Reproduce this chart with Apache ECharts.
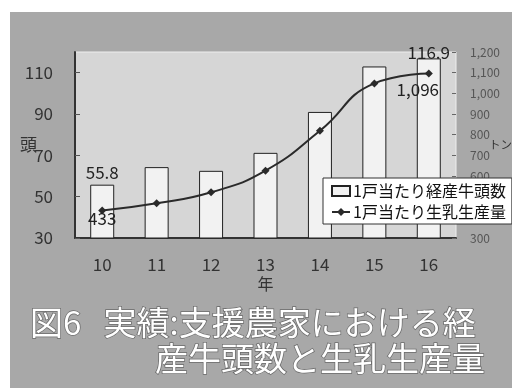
<!DOCTYPE html>
<html><head><meta charset="utf-8">
<script src="https://cdn.jsdelivr.net/npm/echarts@6/dist/echarts.min.js"></script>
<style>html,body{margin:0;padding:0;background:#fff}#c{width:512px;height:388px}</style>
</head><body><div id="c"></div>
<script>
var years = ['10','11','12','13','14','15','16'];
var cows = [55.8, 64.3, 62.5, 71.2, 91.0, 113.0, 116.9];
var milk = [433, 468, 521, 626, 819, 1048, 1096];
var leftTicks = [30, 50, 70, 90, 110];
var seriesNames = ['1戸当たり経産牛頭数', '1戸当たり生乳生産量'];
var titleLine1 = '図6   実績:支援農家における経';
var titleLine2 = '産牛頭数と生乳生産量';

var FONT = '"Noto Sans CJK JP", "Noto Sans", sans-serif';
var chart = echarts.init(document.getElementById('c'));

var cowData = cows.map(function (v, i) {
  var d = { value: v };
  if (i === 0) {
    d.label = { show: true, position: 'top', distance: 4, fontSize: 17, color: '#222', fontFamily: FONT };
  }
  if (i === cows.length - 1) {
    d.label = { show: true, position: 'top', distance: -3, fontSize: 17, color: '#222', fontFamily: FONT };
  }
  return d;
});
var fmt = function (p) { return p.value.toLocaleString('en-US'); };
var milkData = milk.map(function (v, i) {
  var d = { value: v };
  if (i === 0) {
    d.label = { show: true, position: 'bottom', distance: -4, fontSize: 17, color: '#222', fontFamily: FONT, formatter: fmt };
  }
  if (i === milk.length - 1) {
    d.label = { show: true, position: 'bottom', distance: 4, offset: [-11, 0], fontSize: 17, color: '#222', fontFamily: FONT, formatter: fmt };
  }
  return d;
});

chart.setOption({
  animation: false,
  backgroundColor: '#ffffff',
  graphic: [
    { type: 'rect', z: -10, shape: { x: 10, y: 12, width: 502, height: 376 }, style: { fill: '#a8a8a8' } }
  ],
  title: [
    { text: titleLine1, left: 25, top: 301, textStyle: { fontFamily: FONT, fontSize: 33, fontWeight: 'normal', color: '#ffffff', textBorderColor: '#6a6a6a', textBorderWidth: 1.5 } },
    { text: titleLine2, left: 150, top: 337, textStyle: { fontFamily: FONT, fontSize: 33, fontWeight: 'normal', color: '#ffffff', textBorderColor: '#6a6a6a', textBorderWidth: 1.5 } }
  ],
  grid: { left: 75, right: 56, top: 52, bottom: 150, outerBoundsMode: 'none', containLabel: false,
    show: true, backgroundColor: '#d6d6d6', borderColor: '#eeeeee', borderWidth: 1 },
  legend: {
    orient: 'vertical', left: 323, top: 178, padding: [5, 6, 4, 8], itemGap: 5,
    backgroundColor: '#ffffff', borderColor: '#333', borderWidth: 1,
    itemWidth: 18, itemHeight: 10,
    textStyle: { fontFamily: FONT, fontSize: 16, color: '#111', padding: [0, 0, 0, -2] },
    data: [
      { name: seriesNames[0], icon: 'rect' },
      { name: seriesNames[1] }
    ]
  },
  xAxis: {
    type: 'category', data: years,
    name: '年', nameLocation: 'middle', nameGap: 38, nameMoveOverlap: false,
    nameTextStyle: { fontFamily: FONT, fontSize: 16, color: '#333' },
    axisLine: { lineStyle: { color: '#333', width: 2 } },
    axisTick: { inside: true, length: 5, lineStyle: { color: '#555' } },
    axisLabel: { fontFamily: FONT, fontSize: 17, color: '#333', margin: 18 }
  },
  yAxis: [
    {
      type: 'value', min: 30, max: 120,
      name: '頭', nameLocation: 'middle', nameGap: 38, nameRotate: 0, nameMoveOverlap: false,
      nameTextStyle: { fontFamily: FONT, fontSize: 17, color: '#333' },
      axisLine: { show: true, lineStyle: { color: '#333', width: 2 } },
      axisTick: { show: true, inside: true, length: 5, customValues: leftTicks, lineStyle: { color: '#555' } },
      axisLabel: { fontFamily: FONT, fontSize: 17, color: '#333', margin: 22, customValues: leftTicks },
      splitLine: { show: false }
    },
    {
      type: 'value', min: 300, max: 1200, interval: 100, position: 'right',
      name: 'トン', nameLocation: 'middle', nameGap: 33, nameRotate: 0, nameMoveOverlap: false,
      nameTextStyle: { fontFamily: FONT, fontSize: 11.5, color: '#333' },
      axisLine: { show: false },
      axisTick: { show: true, inside: true, length: 4, lineStyle: { color: '#666' } },
      axisLabel: { fontFamily: FONT, fontSize: 12, color: '#555', margin: 14, formatter: function (v) { return v.toLocaleString('en-US'); } },
      splitLine: { show: false }
    }
  ],
  series: [
    {
      name: seriesNames[0], type: 'bar', yAxisIndex: 0, barWidth: 24,
      itemStyle: { color: '#f2f2f2', borderColor: '#222', borderWidth: 1 },
      data: cowData
    },
    {
      name: seriesNames[1], type: 'line', yAxisIndex: 1, smooth: true,
      symbol: 'diamond', symbolSize: 8,
      lineStyle: { color: '#2a2a2a', width: 2 },
      itemStyle: { color: '#2a2a2a' },
      data: milkData
    }
  ]
});
</script></body></html>
